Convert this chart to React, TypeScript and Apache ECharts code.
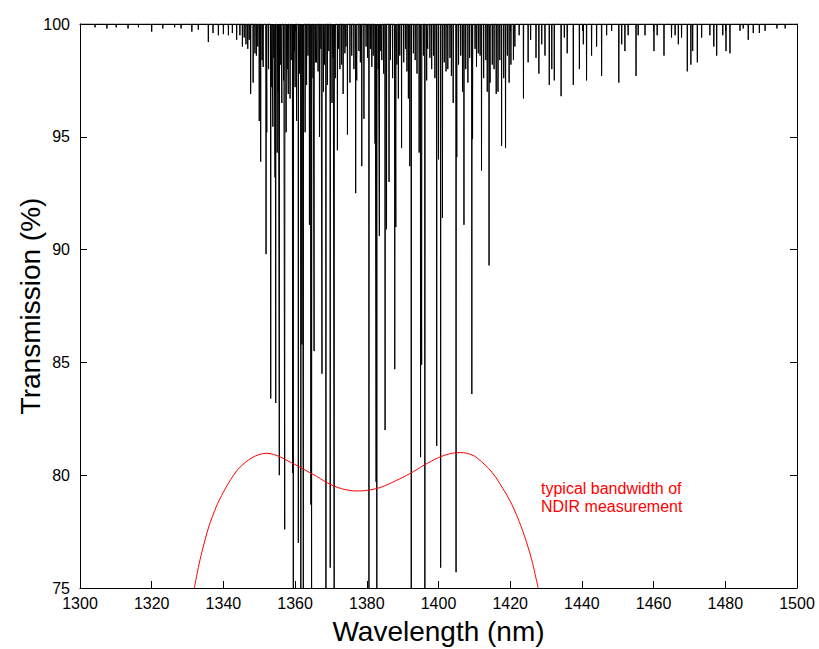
import React, { useEffect, useRef } from "react";
import * as echarts from "echarts";

// Tick values
const xTickMin = 1300;
const xTickMax = 1500;
const xTickStep = 20;
const yTickMin = 75;
const yTickMax = 100;
const yTickStep = 5;

// Absorption lines: [wavelength (nm), minimum transmission (%)]
const linesWeakLeft: [number, number][] = [
  [1304.2, 99.85], [1307.5, 99.8], [1310.1, 99.85], [1313.4, 99.8], [1316.3, 99.85],
  [1320.0, 99.66], [1323.1, 99.8], [1326.4, 99.85], [1328.2, 99.8], [1331.2, 99.66],
  [1333.0, 99.75], [1335.8, 99.2], [1337.1, 99.6], [1338.6, 99.5], [1340.0, 99.55],
  [1341.4, 99.5], [1342.5, 99.6], [1343.7, 99.3], [1344.6, 99.5], [1345.3, 99.0],
];

const linesStrongBand: [number, number][] = [
  [1346.3, 99.1], [1347.6, 96.9], [1348.3, 97.4], [1348.8, 98.7], [1350.0, 95.7],
  [1350.4, 93.9], [1351.1, 98.1], [1351.9, 89.8], [1352.1, 95.2], [1353.2, 83.4],
  [1353.8, 95.45], [1354.4, 93.2], [1354.6, 83.2], [1355.0, 94.3], [1355.6, 80.0],
  [1356.3, 96.5], [1357.1, 77.6], [1357.5, 95.2], [1358.1, 96.9], [1358.6, 96.7],
  [1359.3, 80.1], [1359.5, 74], [1360.0, 97.2], [1360.4, 95.7], [1360.9, 77.0],
  [1361.6, 74], [1361.9, 85.8], [1362.3, 74], [1362.8, 95.2], [1363.2, 97.3],
  [1364.0, 91.1], [1364.4, 78.7], [1364.6, 74], [1365.3, 85.5], [1366.0, 98.3],
  [1366.8, 95.0], [1367.5, 84.5], [1367.9, 97.0], [1368.6, 74], [1369.0, 97.3],
  [1369.8, 75.9], [1370.3, 96.5], [1370.9, 74], [1371.8, 94.4], [1372.5, 98.0],
  [1373.4, 96.9], [1374.6, 95.1], [1375.3, 97.4], [1376.9, 92.5], [1377.2, 97.5],
  [1378.6, 93.7], [1379.2, 95.8], [1380.6, 74], [1381.4, 98.1], [1382.3, 94.7],
  [1382.6, 79.7], [1382.8, 74], [1383.5, 90.6], [1384.2, 98.4], [1385.1, 82.0],
  [1385.5, 90.9], [1386.2, 93.0], [1387.8, 84.7], [1388.1, 91.0], [1388.8, 96.7],
  [1389.7, 94.5], [1391.6, 96.7], [1392.0, 93.7], [1392.4, 74], [1393.0, 98.7],
  [1394.6, 94.3], [1395.0, 80.8], [1395.3, 84.9], [1396.2, 74], [1396.7, 97.5],
  [1397.6, 98.5], [1399.5, 81.3], [1400.0, 94.0], [1400.6, 75.9], [1401.1, 91.4],
  [1402.6, 98.0], [1404.1, 96.5], [1404.9, 75.7], [1405.1, 94.1], [1406.7, 97.0],
  [1407.1, 91.1], [1409.3, 83.6], [1409.5, 94.9], [1411.1, 98.7], [1412.0, 93.5],
  [1414.1, 89.3], [1414.4, 97.4], [1415.5, 98.0], [1416.6, 97.0], [1417.6, 94.6],
  [1418.7, 94.5], [1419.7, 97.4], [1420.9, 98.4],
];

const linesDenseTop: [number, number][] = [
  [1345.8, 99.4], [1346.8, 98.9], [1347.2, 99.3], [1349.2, 98.6], [1349.6, 99.0],
  [1350.8, 98.4], [1352.6, 98.0], [1353.5, 97.2], [1354.1, 98.5], [1355.3, 97.0],
  [1356.0, 98.2], [1356.8, 97.5], [1357.8, 98.0], [1358.9, 98.4], [1359.8, 98.8],
  [1361.2, 97.8], [1362.0, 98.0], [1363.6, 98.6], [1365.0, 97.6], [1365.7, 98.3],
  [1366.4, 97.9], [1367.2, 98.9], [1368.2, 98.2], [1369.4, 98.8], [1370.6, 98.5],
  [1371.2, 97.6], [1372.1, 98.9], [1373.0, 98.2], [1373.9, 98.7], [1374.2, 99.0],
  [1375.8, 98.6], [1376.4, 98.0], [1377.8, 98.8], [1378.2, 98.3], [1379.8, 99.0],
  [1380.2, 98.5], [1381.0, 98.9], [1381.8, 98.6], [1383.2, 98.0], [1383.9, 98.8],
  [1384.7, 97.8], [1386.6, 98.4], [1387.2, 97.6], [1388.4, 98.2], [1389.2, 98.6],
  [1390.3, 98.3], [1390.8, 98.9], [1391.2, 97.9], [1393.5, 98.4], [1394.0, 97.8],
  [1395.8, 98.6], [1397.0, 98.9], [1398.1, 98.0], [1398.6, 98.6], [1399.0, 97.6],
  [1401.6, 98.3], [1402.1, 97.9], [1403.2, 98.5], [1403.6, 97.7], [1405.6, 98.2],
  [1406.2, 98.6], [1407.6, 98.0], [1408.2, 97.4], [1408.7, 98.5], [1410.2, 98.9],
  [1410.6, 98.1], [1411.6, 98.6], [1412.6, 97.6], [1413.2, 98.4], [1413.6, 97.0],
  [1415.0, 98.2], [1416.1, 96.9], [1417.1, 98.4], [1418.2, 97.6], [1419.2, 98.6],
  [1420.2, 98.2],
];

const linesWeakRight: [number, number][] = [
  [1421.3, 99.0], [1422.5, 99.5], [1423.7, 96.7], [1425.0, 98.3], [1425.7, 99.3],
  [1427.2, 98.5], [1428.0, 97.8], [1428.8, 99.1], [1429.7, 98.6], [1430.9, 97.3],
  [1431.6, 98.0], [1432.3, 97.5], [1434.2, 96.8], [1435.1, 99.4], [1435.9, 98.7],
  [1437.6, 97.3], [1439.3, 98.0], [1440.4, 99.1], [1441.3, 97.5], [1442.7, 98.6],
  [1444.1, 99.0], [1445.5, 97.7], [1446.9, 99.5], [1448.3, 99.7], [1450.3, 97.4],
  [1451.1, 99.1], [1452.0, 98.8], [1452.9, 99.5], [1455.1, 97.7], [1455.7, 99.5],
  [1457.6, 99.5], [1460.1, 98.8], [1461.0, 99.5], [1462.9, 98.6], [1465.0, 99.4],
  [1466.0, 99.5], [1466.9, 99.1], [1467.8, 99.4], [1469.4, 97.9], [1470.4, 98.2],
  [1470.9, 98.8], [1472.2, 98.3], [1473.4, 99.4], [1475.7, 99.5], [1476.8, 99.0],
  [1477.6, 98.6], [1479.3, 99.5], [1480.2, 98.8], [1481.3, 98.7], [1484.1, 99.7],
  [1485.0, 99.8], [1486.4, 99.3], [1487.8, 99.6], [1489.5, 99.6], [1491.1, 99.7],
  [1494.4, 99.8], [1496.7, 99.8],
];

// NDIR bandwidth curve
const bandWavelengths = [
  1331.9, 1333, 1334, 1335, 1336, 1338, 1340, 1342, 1344, 1346, 1348, 1350, 1352,
  1354, 1356, 1358, 1360, 1362, 1364, 1366, 1368, 1370, 1372, 1374, 1376, 1378,
  1380, 1382, 1384, 1386, 1388, 1390, 1392, 1394, 1396, 1398, 1400, 1402, 1404,
  1406, 1408, 1410, 1412, 1414, 1416, 1418, 1420, 1422, 1424, 1426, 1427.8,
];
const bandTransmission = [
  75, 75.9, 76.6, 77.2, 77.75, 78.6, 79.25, 79.8, 80.25, 80.55, 80.78, 80.92, 80.97,
  80.92, 80.8, 80.63, 80.47, 80.3, 80.12, 79.95, 79.75, 79.58, 79.45, 79.36, 79.31, 79.3,
  79.33, 79.38, 79.47, 79.6, 79.75, 79.9, 80.07, 80.25, 80.45, 80.62, 80.78, 80.9, 80.98,
  81.0, 80.97, 80.85, 80.6, 80.3, 79.9, 79.4, 78.85, 78.15, 77.3, 76.25, 75,
];

const baseline = 100;
const lineHalfWidth = 0.06;
const FONT = "'Liberation Sans', Arial, Helvetica, sans-serif";

export default function App() {
  const ref = useRef<HTMLDivElement>(null);

  useEffect(() => {
    if (!ref.current) return;
    const chart = echarts.init(ref.current, undefined, { renderer: "svg" });

    const allLines = [...linesWeakLeft, ...linesStrongBand, ...linesDenseTop, ...linesWeakRight]
      .slice()
      .sort((a, b) => a[0] - b[0]);
    const spectrum: [number, number][] = [[xTickMin, baseline]];
    allLines.forEach(([w, t]) => {
      spectrum.push([w - lineHalfWidth, baseline]);
      spectrum.push([w, t]);
      spectrum.push([w + lineHalfWidth, baseline]);
    });
    spectrum.push([xTickMax, baseline]);

    const band = bandWavelengths.map((w, i) => [w, bandTransmission[i]]);

    const axisCommon = {
      axisLine: { show: true, lineStyle: { color: "#000", width: 1 } },
      axisTick: { show: true, inside: true, length: 7, lineStyle: { color: "#000", width: 1 } },
      splitLine: { show: false },
    };
    const plain = (v: number) => String(v);

    chart.setOption({
      animation: false,
      backgroundColor: "#fff",
      grid: {
        left: 80,
        right: 22,
        top: 24,
        bottom: 61,
        containLabel: false,
        outerBoundsMode: "none",
      },
      xAxis: [
        {
          type: "value",
          min: xTickMin,
          max: xTickMax,
          interval: xTickStep,
          position: "bottom",
          ...axisCommon,
          axisLabel: { color: "#000", fontSize: 16, fontFamily: FONT, margin: 7, formatter: plain },
          name: "Wavelength (nm)",
          nameLocation: "middle",
          nameGap: 29,
          nameMoveOverlap: false,
          nameTextStyle: { color: "#000", fontSize: 28, fontFamily: FONT },
        },
        {
          type: "value",
          min: xTickMin,
          max: xTickMax,
          interval: xTickStep,
          position: "top",
          ...axisCommon,
          axisLabel: { show: false },
        },
      ],
      yAxis: [
        {
          type: "value",
          min: yTickMin,
          max: yTickMax,
          interval: yTickStep,
          position: "left",
          ...axisCommon,
          axisLabel: { color: "#000", fontSize: 16, fontFamily: FONT, margin: 10, formatter: plain },
          name: "Transmission (%)",
          nameLocation: "middle",
          nameGap: 36,
          nameMoveOverlap: false,
          nameTextStyle: { color: "#000", fontSize: 28, fontFamily: FONT },
        },
        {
          type: "value",
          min: yTickMin,
          max: yTickMax,
          interval: yTickStep,
          position: "right",
          ...axisCommon,
          axisLabel: { show: false },
        },
      ],
      series: [
        {
          type: "line",
          data: spectrum,
          xAxisIndex: 0,
          yAxisIndex: 0,
          showSymbol: false,
          symbol: "none",
          clip: true,
          lineStyle: { color: "#000", width: 1 },
          silent: true,
        },
        {
          type: "line",
          data: band,
          xAxisIndex: 0,
          yAxisIndex: 0,
          showSymbol: false,
          symbol: "none",
          smooth: 0.3,
          clip: true,
          lineStyle: { color: "#ff0000", width: 1 },
          silent: true,
        },
      ],
      graphic: [
        {
          type: "text",
          left: 541,
          top: 479,
          style: {
            text: "typical bandwidth of\nNDIR measurement",
            fill: "#ff0000",
            font: `16px ${FONT}`,
            lineHeight: 18,
          },
        },
      ],
    });

    return () => chart.dispose();
  }, []);

  return (
    <div
      ref={ref}
      style={{ position: "absolute", left: 0, top: 0, width: 819, height: 649 }}
    />
  );
}
